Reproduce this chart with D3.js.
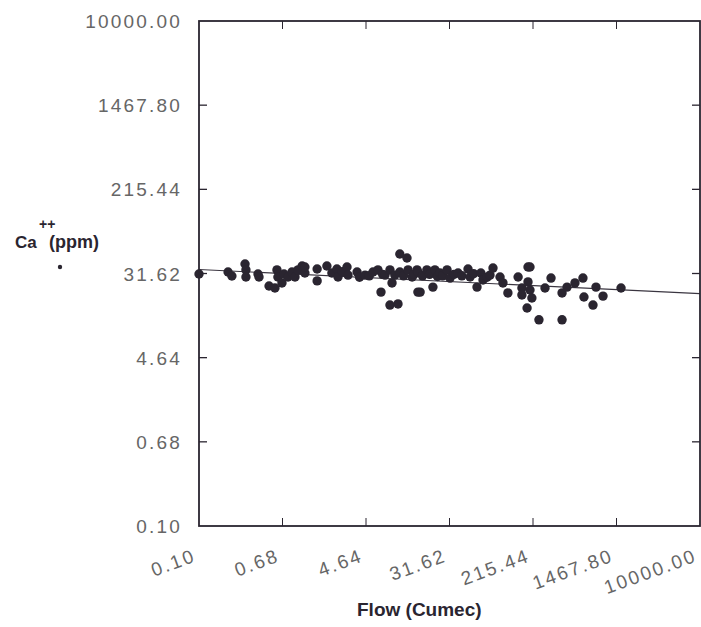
<!DOCTYPE html>
<html>
<head>
<meta charset="utf-8">
<script src="https://cdn.jsdelivr.net/npm/d3@7"></script>
<style>
  html, body { margin: 0; padding: 0; background: #fff; }
  svg { display: block; }
  .tick-label { font-family: "Liberation Sans", Arial, sans-serif; font-size: 19px; fill: #666; letter-spacing: 2.2px; }
  .axis-title { font-family: "Liberation Sans", Arial, sans-serif; font-weight: bold; fill: #2a2530; }
</style>
</head>
<body>
<script>
// Flow (cumec) vs Ca++ (ppm), log-log
const flow = [
  0.10, 0.195, 0.213, 0.288, 0.294, 0.294, 0.388, 0.397, 0.50, 0.573,
  0.600, 0.613, 0.673, 0.705, 0.773, 0.847, 0.908, 0.973, 1.07, 1.14,
  1.14, 1.51, 1.51, 1.89, 2.12, 2.38, 2.44, 2.70, 3.00, 3.07,
  3.78, 4.00, 4.54, 5.00, 5.45, 6.11, 6.55, 6.80, 7.18, 8.05,
  8.44, 8.05, 9.68, 9.00, 10.1, 11.9, 10.1, 11.0, 12.2, 13.4,
  14.0, 15.0, 15.3, 15.3, 16.1, 17.0, 18.8, 20.0, 21.6, 22.6,
  24.0, 25.4, 27.0, 29.9, 32.0, 35.0, 38.5, 42.0, 48.4, 50.7,
  55.0, 59.5, 65.0, 68.3, 75.0, 80.2, 85.9, 101, 108, 121,
  153, 167, 167, 188, 192, 201, 192, 201, 210, 247,
  284, 326, 420, 420, 471, 565, 679, 695, 855, 916,
  1077, 1629
];
const calcium = [
  31.3, 32.7, 29.9, 39.3, 34.3, 29.2, 31.3, 29.2, 23.8, 22.7,
  34.3, 29.2, 25.5, 31.3, 29.2, 32.7, 29.2, 34.3, 37.5, 32.0,
  36.7, 35.0, 26.7, 37.5, 32.0, 35.0, 29.2, 33.0, 36.7, 30.5,
  32.7, 29.0, 30.5, 30.0, 32.7, 34.3, 20.7, 31.0, 30.5, 34.3,
  25.5, 15.4, 15.8, 30.5, 49.3, 45.0, 32.7, 30.0, 34.3, 29.2,
  31.0, 34.3, 20.7, 32.7, 20.7, 30.0, 34.3, 31.0, 23.2, 34.3,
  29.5, 32.0, 30.0, 34.3, 28.5, 31.0, 32.0, 30.0, 35.0, 29.2,
  31.5, 23.2, 32.0, 27.3, 29.0, 30.5, 35.8, 29.2, 25.5, 20.3,
  29.2, 22.7, 19.4, 14.4, 36.7, 36.7, 26.1, 21.7, 18.1, 11.0,
  22.7, 28.5, 20.3, 11.0, 23.2, 25.5, 28.5, 18.5, 15.4, 23.2,
  18.9, 22.7
];

// fitted trend line end points
const fitFlow = [0.1, 10000];
const fitCalcium = [34.7, 20.0];

// axis tick values and their printed labels
const tickValues = [0.1, 0.6812920690579612, 4.641588833612779, 31.622776601683793, 215.44346900318823, 1467.7992676220695, 10000];
const tickLabels = ["0.10", "0.68", "4.64", "31.62", "215.44", "1467.80", "10000.00"];

const W = 701, H = 627;
const plotLeft = 199, plotRight = 700, plotTop = 21, plotBottom = 526;

const svg = d3.select("body").append("svg").attr("width", W).attr("height", H);

const x = d3.scaleLog().domain([0.1, 10000]).range([plotLeft, plotRight]);
const y = d3.scaleLog().domain([0.1, 10000]).range([plotBottom, plotTop]);

const ink = "#2a2530";

// trend line
svg.append("path")
  .attr("d", d3.line().x(d => x(d[0])).y(d => y(d[1]))(d3.zip(fitFlow, fitCalcium)))
  .attr("fill", "none").attr("stroke", "#3a3540").attr("stroke-width", 1.1);

// data points
svg.append("g").selectAll("circle")
  .data(d3.zip(flow, calcium))
  .join("circle")
  .attr("cx", d => x(d[0]))
  .attr("cy", d => y(d[1]))
  .attr("r", 4.7)
  .attr("fill", ink);

// frame
svg.append("rect")
  .attr("x", plotLeft).attr("y", plotTop)
  .attr("width", plotRight - plotLeft).attr("height", plotBottom - plotTop)
  .attr("fill", "none").attr("stroke", ink).attr("stroke-width", 1.8);

// inward ticks on all four sides
const inner = tickValues.slice(1, -1);
const tk = 8;
svg.append("g").selectAll("line").data(inner).join("line")
  .attr("x1", plotLeft).attr("x2", plotLeft + tk)
  .attr("y1", d => y(d)).attr("y2", d => y(d))
  .attr("stroke", ink).attr("stroke-width", 1.3);
svg.append("g").selectAll("line").data(inner).join("line")
  .attr("x1", plotRight - tk).attr("x2", plotRight)
  .attr("y1", d => y(d)).attr("y2", d => y(d))
  .attr("stroke", ink).attr("stroke-width", 1.3);
svg.append("g").selectAll("line").data(inner).join("line")
  .attr("x1", d => x(d)).attr("x2", d => x(d))
  .attr("y1", plotBottom).attr("y2", plotBottom - tk)
  .attr("stroke", ink).attr("stroke-width", 1);
svg.append("g").selectAll("line").data(inner).join("line")
  .attr("x1", d => x(d)).attr("x2", d => x(d))
  .attr("y1", plotTop).attr("y2", plotTop + tk)
  .attr("stroke", ink).attr("stroke-width", 1);

// y tick labels
svg.append("g").selectAll("text").data(tickValues).join("text")
  .attr("class", "tick-label")
  .attr("x", 182)
  .attr("y", d => y(d) + 7)
  .attr("text-anchor", "end")
  .text((d, i) => tickLabels[i]);

// x tick labels, slanted
svg.append("g").selectAll("text").data(tickValues).join("text")
  .attr("class", "tick-label")
  .attr("text-anchor", "end")
  .attr("transform", d => `translate(${x(d) - 2},${561}) rotate(-20)`)
  .text((d, i) => tickLabels[i]);

// axis titles
svg.append("text").attr("class", "axis-title")
  .attr("x", 357).attr("y", 616)
  .attr("font-size", 19)
  .text("Flow (Cumec)");

const ca = svg.append("text").attr("class", "axis-title")
  .attr("x", 15).attr("y", 248).attr("font-size", 17);
ca.append("tspan").text("Ca");
ca.append("tspan").attr("x", 49).attr("font-size", 18).text("(ppm)");
svg.append("text").attr("class", "axis-title")
  .attr("x", 39).attr("y", 229).attr("font-size", 14)
  .text("++");

svg.append("circle").attr("cx", 60).attr("cy", 267).attr("r", 2.2).attr("fill", ink);
</script>
</body>
</html>
